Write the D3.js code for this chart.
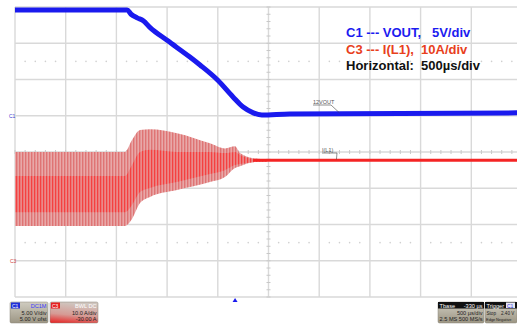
<!DOCTYPE html>
<html>
<head>
<meta charset="utf-8">
<script src="https://cdn.jsdelivr.net/npm/d3@7"></script>
<style>
  body { margin: 0; background: #fff; }
  svg { display: block; font-family: "Liberation Sans", Arial, sans-serif; }
</style>
</head>
<body>
<div id="scope"></div>
<script>
// C1 (VOUT) samples: time in us (trigger = 0), volts
var voutTime = [-2170, -1065, -1025, -965, -905, -840, -670, -445, -345, -170, -20, 80, 180, 265, 540, 2830];
var vout     = [14.6, 14.6, 14.0, 13.5, 13.1, 12.2, 10.4, 8.1, 7.0, 4.9, 2.6, 1.2, 0.4, 0.1, 0.25, 0.4];

// C3 (I(L1)) ripple envelope, amps
var ilTime     = [-2170, -1085, -1016, -937, -838, -572, -247, -99, 0, 49, 178, 316];
var ilUpper    = [30.0, 30.0, 33.3, 36.1, 36.3, 35.2, 32.4, 31.0, 31.6, 29.7, 28.3, 27.9];
var ilLower    = [9.6, 9.6, 11.5, 15.9, 17.6, 19.5, 21.7, 23.1, 25.6, 26.1, 27.2, 27.4];
var ilCoreUp   = [23.4, 23.4, 26.4, 30.0, 30.6, 30.0, 30.0, 29.7, 30.0, 29.2, 28.1, 27.8];
var ilCoreLow  = [13.4, 13.4, 15.4, 19.0, 20.1, 21.7, 23.9, 25.0, 26.4, 26.7, 27.2, 27.4];
// settled current after the ripple stops
var ilFlatTime = [178, 2830];
var ilFlat     = [27.7, 27.7];

var legendLines = ["C1 --- VOUT,   5V/div", "C3 --- I(L1),  10A/div", "Horizontal:  500\u00b5s/div"];

var width = 517, height = 325;
var svg = d3.select("#scope").append("svg")
    .attr("width", width)
    .attr("height", height);

svg.append("rect").attr("width", width).attr("height", height).attr("fill", "#fff");

// screen: 10 x 8 divisions, right edge runs off the picture
var divX = d3.scaleLinear().domain([0, 10]).range([15, 522]);
var divY = d3.scaleLinear().domain([0, 8]).range([7, 297]);
var x = d3.scaleLinear().domain([-2170, 2830]).range([15, 522]);
var yV = d3.scaleLinear().domain([15, -25]).range([7, 297]);   // 5 V/div
var yA = d3.scaleLinear().domain([70, -10]).range([7, 297]);   // 10 A/div

var defs = svg.append("defs");
defs.append("clipPath").attr("id", "screen")
  .append("rect").attr("x", 15).attr("y", 7).attr("width", 507).attr("height", 290);

function stripes(id, bg, fg, w) {
  var p = defs.append("pattern").attr("id", id)
      .attr("patternUnits", "userSpaceOnUse")
      .attr("width", 3).attr("height", 10);
  p.append("rect").attr("width", 3).attr("height", 10).attr("fill", bg);
  p.append("rect").attr("x", 1).attr("width", w).attr("height", 10).attr("fill", fg);
}
stripes("bandFill", "#e8a8a8", "#df7474", 1.4);
stripes("coreFill", "#ec7a7a", "#ff2a2a", 1.2);

// grid
var grid = svg.append("g").attr("stroke", "#d9d9d9").attr("stroke-width", 1.4);
grid.selectAll(".v").data(d3.range(0, 11)).enter().append("line")
    .attr("x1", function(d) { return divX(d); }).attr("x2", function(d) { return divX(d); })
    .attr("y1", divY(0)).attr("y2", divY(8));
grid.selectAll(".h").data(d3.range(0, 9)).enter().append("line")
    .attr("x1", divX(0)).attr("x2", width)
    .attr("y1", function(d) { return divY(d); }).attr("y2", function(d) { return divY(d); });

// minor ticks on the centre lines
var ticks = svg.append("g").attr("stroke", "#c8c8c8").attr("stroke-width", 1);
ticks.selectAll(".tv").data(d3.range(0, 40.01, 1)).enter().append("line")
    .attr("x1", divX(5) - 2).attr("x2", divX(5) + 2)
    .attr("y1", function(d) { return divY(d / 5); }).attr("y2", function(d) { return divY(d / 5); });
ticks.selectAll(".th").data(d3.range(0, 50.01, 1)).enter().append("line")
    .attr("y1", divY(4) - 2).attr("y2", divY(4) + 2)
    .attr("x1", function(d) { return divX(d / 5); }).attr("x2", function(d) { return divX(d / 5); });

// dotted rows at +-2.5 div
[1.5, 6.5].forEach(function(r) {
  svg.append("g").selectAll("circle")
      .data(d3.range(0, 50).filter(function(d) { return d % 5 !== 0; }))
      .enter().append("circle")
      .attr("cx", function(d) { return divX(d / 5); })
      .attr("cy", divY(r))
      .attr("r", 0.8)
      .attr("fill", "#d0d0d0");
});

var plot = svg.append("g").attr("clip-path", "url(#screen)");

// I(L1) ripple band
var il = ilTime.map(function(t, i) {
  return { t: t, hi: ilUpper[i], lo: ilLower[i], chi: ilCoreUp[i], clo: ilCoreLow[i] };
});
plot.append("path").datum(il)
    .attr("fill", "url(#bandFill)")
    .attr("d", d3.area().curve(d3.curveMonotoneX)
      .x(function(d) { return x(d.t); })
      .y0(function(d) { return yA(d.lo); })
      .y1(function(d) { return yA(d.hi); }));
plot.append("path").datum(il)
    .attr("fill", "url(#coreFill)")
    .attr("opacity", 0.7)
    .attr("d", d3.area().curve(d3.curveMonotoneX)
      .x(function(d) { return x(d.t); })
      .y0(function(d) { return yA(d.clo); })
      .y1(function(d) { return yA(d.chi); }));

plot.append("path").datum(ilFlatTime.map(function(t, i) { return { t: t, v: ilFlat[i] }; }))
    .attr("fill", "none")
    .attr("stroke", "#f42424")
    .attr("stroke-width", 3)
    .attr("d", d3.line().x(function(d) { return x(d.t); }).y(function(d) { return yA(d.v); }));

// VOUT
plot.append("path").datum(voutTime.map(function(t, i) { return { t: t, v: vout[i] }; }))
    .attr("fill", "none")
    .attr("stroke", "#1a1aee")
    .attr("stroke-width", 5)
    .attr("stroke-linejoin", "round")
    .attr("d", d3.line().curve(d3.curveMonotoneX)
      .x(function(d) { return x(d.t); }).y(function(d) { return yV(d.v); }));

// trace labels with leader lines
function traceLabel(txt, lx, ly, t, yPix) {
  svg.append("text").attr("x", lx).attr("y", ly)
      .attr("font-size", 5.5).attr("fill", "#555").text(txt);
  svg.append("path")
      .attr("d", "M" + lx + "," + (ly + 1) + "h" + (txt.length * 3) + "L" + x(t) + "," + yPix)
      .attr("fill", "none").attr("stroke", "#444").attr("stroke-width", 0.6);
}
traceLabel("12VOUT", 313, 104, 1030, yV(0.4));
traceLabel("I(L1)", 322, 152, 1000, yA(27.7) - 1);

// channel ground markers
svg.append("text").attr("x", 9).attr("y", yV(0) + 2).attr("font-size", 5).attr("fill", "#3a3ad0").text("C1");
svg.append("text").attr("x", 10).attr("y", yA(0) + 2).attr("font-size", 5).attr("fill", "#d04040").text("C3");

// trigger marker
svg.append("path")
    .attr("d", "M" + x(0) + "," + 298 + "l2.5,4h-5z")
    .attr("fill", "#1a1aee");

// legend
var legColors = ["#1c1cf0", "#e8401c", "#111"];
svg.append("g").selectAll("text").data(legendLines).enter().append("text")
    .attr("x", 346)
    .attr("y", function(d, i) { return 37 + i * 16.5; })
    .attr("font-size", 13)
    .attr("font-weight", "bold")
    .attr("fill", function(d, i) { return legColors[i]; })
    .attr("xml:space", "preserve")
    .style("white-space", "pre")
    .text(function(d) { return d; });

// bottom info boxes
var gBody = defs.append("linearGradient").attr("id", "boxGray").attr("x1", 0).attr("y1", 0).attr("x2", 0).attr("y2", 1);
gBody.append("stop").attr("offset", 0).attr("stop-color", "#d0ccc0");
gBody.append("stop").attr("offset", 1).attr("stop-color", "#9c9684");
var gRed = defs.append("linearGradient").attr("id", "boxRed").attr("x1", 0.2).attr("y1", 0).attr("x2", 0).attr("y2", 1);
gRed.append("stop").attr("offset", 0).attr("stop-color", "#cfc5be");
gRed.append("stop").attr("offset", 0.55).attr("stop-color", "#d69a94");
gRed.append("stop").attr("offset", 1).attr("stop-color", "#e81e1e");

function infoBox(bx, bw, fill, tag, tagColor, head, headDark, line1, line2) {
  var g = svg.append("g").attr("font-size", 5.6);
  g.append("rect").attr("x", bx).attr("y", 302).attr("width", bw).attr("height", 21)
      .attr("rx", 1.5).attr("fill", fill).attr("stroke", "#8a8678").attr("stroke-width", 0.5);
  if (headDark) {
    g.append("rect").attr("x", bx).attr("y", 302).attr("width", bw).attr("height", 6.5).attr("fill", "#111");
  }
  if (tag) {
    g.append("rect").attr("x", bx + 1).attr("y", 302.5).attr("width", 9).attr("height", 6).attr("fill", tagColor);
    g.append("text").attr("x", bx + 2).attr("y", 307.5).attr("fill", "#fff").attr("font-size", 5).text(tag);
  }
  g.append("text").attr("x", headDark ? bx + 1.5 : bx + bw - 1.5).attr("y", 307.6)
      .attr("text-anchor", headDark ? "start" : "end")
      .attr("fill", headDark ? "#fff" : (tagColor === "#1f2fd8" ? "#3a3aff" : "#fff"))
      .text(head[0]);
  if (headDark && head[1]) {
    g.append("text").attr("x", bx + bw - 1.5).attr("y", 307.6).attr("text-anchor", "end")
        .attr("fill", "#fff").text(head[1]);
  }
  g.append("text").attr("x", bx + bw - 1.5).attr("y", 314.5).attr("text-anchor", "end").attr("fill", "#222").text(line1);
  g.append("text").attr("x", bx + bw - 1.5).attr("y", 321).attr("text-anchor", "end").attr("fill", "#222").text(line2);
}
infoBox(10, 38, "url(#boxGray)", "C1", "#1f2fd8", ["DC1M"], false, "5.00 V/div", "5.00 V ofst");
infoBox(50, 48, "url(#boxRed)", "C3", "#e52020", ["BWL DC"], false, "10.0 A/div", "-30.00 A");
infoBox(438, 46, "url(#boxGray)", null, null, ["Tbase", "-330 \u00b5s"], true, "500 \u00b5s/div", "2.5 MS   500 MS/s");
infoBox(485, 32, "url(#boxGray)", null, null, ["Trigger", ""], true, "", "");
// trigger box content, small enough to fit the visible part
var tg = svg.append("g").attr("font-size", 4.6);
tg.append("rect").attr("x", 506).attr("y", 302.5).attr("width", 9).attr("height", 5.5).attr("fill", "#e8e8f4");
tg.append("text").attr("x", 507).attr("y", 307.5).attr("font-size", 5).attr("fill", "#1f2fd8").text("C1");
tg.append("text").attr("x", 486.5).attr("y", 314.5).attr("fill", "#222").text("Stop");
tg.append("text").attr("x", 501).attr("y", 314.5).attr("fill", "#222").text("2.40 V");
tg.append("text").attr("x", 486).attr("y", 321).attr("fill", "#222").attr("font-size", 4).text("Edge");
tg.append("text").attr("x", 496).attr("y", 321).attr("fill", "#222").attr("font-size", 3.9).text("Negative");
</script>
</body>
</html>
